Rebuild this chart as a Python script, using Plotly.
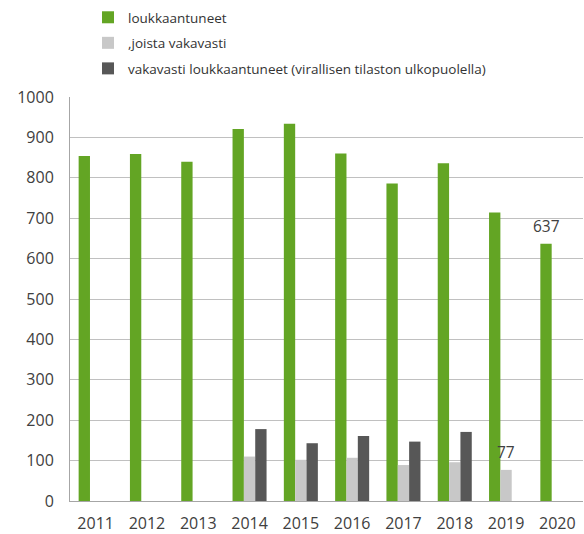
import plotly.graph_objects as go

years = ["2011", "2012", "2013", "2014", "2015", "2016", "2017", "2018", "2019", "2020"]
injured = [854, 859, 840, 921, 934, 860, 786, 836, 714, 637]
of_which_serious = [None, None, None, 110, 102, 107, 89, 96, 77, None]
serious_unofficial = [None, None, None, 178, 143, 161, 147, 171, None, None]

names = [
    "loukkaantuneet",
    ",joista vakavasti",
    "vakavasti loukkaantuneet (virallisen tilaston ulkopuolella)",
]
colors = ["#63a524", "#c8c8c8", "#575757"]
series = [injured, of_which_serious, serious_unofficial]

FONT = "Open Sans"
TEXT = "#404040"

fig = go.Figure()
for i, (name, vals, col) in enumerate(zip(names, series, colors)):
    fig.add_trace(go.Bar(
        x=years, y=vals, name=name,
        marker=dict(color=col, line=dict(width=0)),
        legendgroup=f"g{i}",
    ))

# value labels above the last green bar and the 2019 light-grey bar
# (positions given as category indices; offset = bar slot within the group)
labels = [(9, injured[9], -1), (8, of_which_serious[8], 0)]
for idx, v, off in labels:
    fig.add_annotation(
        x=idx, y=v, text=str(v), showarrow=False,
        xref="x", yref="y", yanchor="middle", yshift=18,
        xshift=off * 11.3,
        font=dict(family=FONT, size=15.5, color=TEXT),
    )

fig.update_layout(
    width=584, height=534,
    margin=dict(l=70, r=1, t=97, b=33, autoexpand=False),
    paper_bgcolor="white", plot_bgcolor="white",
    barmode="group", bargap=0.337, bargroupgap=0,
    font=dict(family=FONT, color=TEXT),
    legend=dict(
        x=88 / 584, xanchor="left", xref="container",
        y=1 - 2 / 534, yanchor="top", yref="container",
        font=dict(family=FONT, size=13.5, color="#333333"),
        tracegroupgap=5, itemclick=False,
        bgcolor="rgba(0,0,0,0)",
    ),
    showlegend=True,
)
fig.update_xaxes(
    type="category",
    showline=True, linecolor="#a6a6a6", linewidth=1,
    ticks="outside", ticklen=8, tickcolor="rgba(0,0,0,0)",
    tickfont=dict(family=FONT, size=16, color=TEXT),
    automargin=False,
)
fig.update_yaxes(
    range=[0, 1000], dtick=100,
    showgrid=True, gridcolor="#c0c0c0", gridwidth=1,
    showline=True, linecolor="#a6a6a6", linewidth=1,
    zeroline=False,
    ticks="outside", ticklen=12, tickcolor="rgba(0,0,0,0)",
    tickfont=dict(family=FONT, size=16, color=TEXT),
    automargin=False,
)

fig.write_html("out.html")
